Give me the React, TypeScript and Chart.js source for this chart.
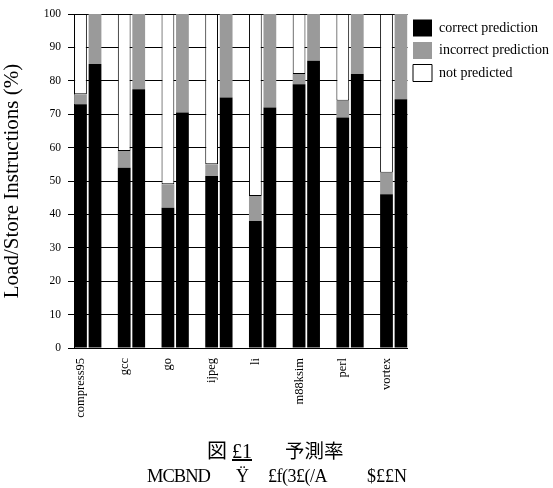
import React, { useEffect, useRef } from "react";
import { Chart, registerables } from "chart.js";

Chart.register(...registerables);

// ---- data ----
const categories = ["compress95", "gcc", "go", "ijpeg", "li", "m88ksim", "perl", "vortex"];
// left bar of each pair
const correctA = [73, 54, 42, 51.5, 38, 79, 69, 46];
const incorrectA = [3, 5, 7, 3.5, 7.5, 3, 5, 6.5];
const notPredictedA = [24, 41, 51, 45, 54.5, 18, 26, 47.5];
// right bar of each pair
const correctB = [85, 77.5, 70.5, 75, 72, 86, 82, 74.5];
const incorrectB = [15, 22.5, 29.5, 25, 28, 14, 18, 25.5];

const seriesLabels = ["correct prediction", "incorrect prediction", "not predicted"];
const yAxisTitle = "Load/Store Instructions (%)";
const yMin = 0;
const yMax = 100;
const yStep = 10;

const SERIF = "'Liberation Serif', 'Times New Roman', serif";
const CJK = "'Noto Sans CJK JP', 'Noto Sans CJK SC', sans-serif";

export default function App() {
  const ref = useRef<HTMLCanvasElement | null>(null);

  useEffect(() => {
    const canvas = ref.current;
    if (!canvas) return;
    const pts = (arr: number[]) => arr.map((y, i) => ({ x: i, y }));
    const chart = new Chart(canvas, {
      type: "bar",
      data: {
        datasets: [
          { label: seriesLabels[0], data: pts(correctA), backgroundColor: "#000", borderColor: "#000", borderWidth: 0, stack: "a" },
          { label: seriesLabels[1], data: pts(incorrectA), backgroundColor: "#9a9a9a", borderColor: "#9a9a9a", borderWidth: 0, stack: "a" },
          { label: seriesLabels[2], data: pts(notPredictedA), backgroundColor: "#fff", borderColor: "#000", borderWidth: 1, borderSkipped: false, stack: "a" },
          { label: seriesLabels[0] + " B", data: pts(correctB), backgroundColor: "#000", borderColor: "#000", borderWidth: 0, stack: "b" },
          { label: seriesLabels[1] + " B", data: pts(incorrectB), backgroundColor: "#9a9a9a", borderColor: "#9a9a9a", borderWidth: 0, stack: "b" },
        ] as any,
      },
      options: {
        animation: false,
        responsive: false,
        datasets: { bar: { categoryPercentage: 0.664, barPercentage: 0.88 } } as any,
        layout: { padding: { top: 14, left: 0, right: 0, bottom: 0 } },
        scales: {
          x: {
            type: "linear",
            stacked: true,
            offset: false,
            min: -0.3145,
            max: 7.3145,
            grid: { display: false, offset: false },
            border: { display: true, color: "#000", width: 1 },
            afterBuildTicks: (s: any) => {
              s.ticks = categories.map((_, i) => ({ value: i - 0.16 }));
            },
            afterFit: (s: any) => {
              s.height = 92;
            },
            ticks: {
              autoSkip: false,
              maxRotation: 90,
              minRotation: 90,
              padding: 2,
              color: "#000",
              font: { family: SERIF, size: 12.5 },
              callback: (_v: any, i: number) => categories[i],
            },
          } as any,
          y: {
            stacked: true,
            min: yMin,
            max: yMax,
            ticks: {
              stepSize: yStep,
              padding: 7,
              color: "#000",
              font: { family: SERIF, size: 11.5 },
            },
            grid: { color: "#000", lineWidth: 1, tickLength: 6 },
            border: { display: true, color: "#000", width: 1 },
            title: {
              display: true,
              text: yAxisTitle,
              color: "#000",
              font: { family: SERIF, size: 21 },
              padding: { top: 0, bottom: 0 },
            },
            afterFit: (s: any) => {
              s.width = 74;
            },
          } as any,
        },
        plugins: {
          legend: {
            position: "right",
            align: "start",
            maxWidth: 145.5,
            labels: {
              filter: (item: any) => item.datasetIndex < 3,
              boxWidth: 19,
              boxHeight: 17,
              padding: 5.5,
              color: "#000",
              font: { family: SERIF, size: 14 },
            },
          } as any,
          tooltip: { enabled: false },
        },
      },
    });
    return () => chart.destroy();
  }, []);

  const span = (text: string, left: number, top: number, size: number, family: string, extra: any = {}) => (
    <span
      style={{
        position: "absolute",
        left,
        top,
        fontSize: size,
        lineHeight: `${size}px`,
        fontFamily: family,
        whiteSpace: "pre",
        color: "#000",
        ...extra,
      }}
    >
      {text}
    </span>
  );

  return (
    <div style={{ position: "fixed", left: 0, top: 0, width: 553, height: 488, background: "#fff" }}>
      <canvas ref={ref} width={553} height={440} style={{ position: "absolute", left: 0, top: 0, width: 553, height: 440 }} />
      {span("図", 207, 440, 20, CJK)}
      {span("£1", 232, 441, 20, SERIF, { textDecoration: "underline" })}
      {span("予測率", 285, 440, 19.5, CJK)}
      {span("MCBND", 147, 467, 18.5, SERIF, { letterSpacing: "-1px" })}
      {span("Ÿ", 236, 467, 18, SERIF)}
      {span("£f(3£(/A", 268, 467, 18, SERIF, { letterSpacing: "-0.5px" })}
      {span("$££N", 367, 467, 18, SERIF)}
    </div>
  );
}
